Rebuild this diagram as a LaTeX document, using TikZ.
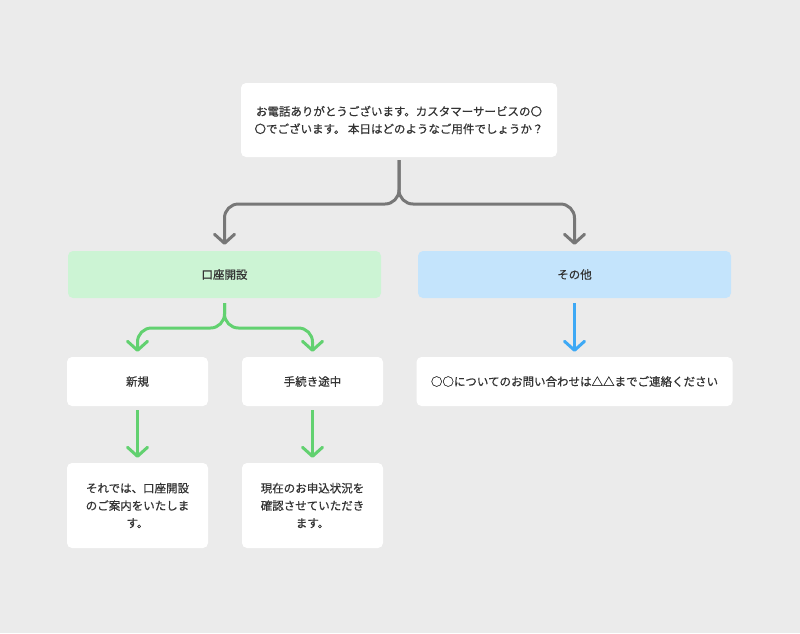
\documentclass[tikz,border=0pt]{standalone}
\usepackage{fontspec}
\setmainfont{Noto Sans CJK JP}[RawFeature={embolden=0.6}]
\usetikzlibrary{arrows.meta,positioning}
\definecolor{bgcol}{HTML}{EBEBEB}
\definecolor{txtcol}{HTML}{333333}
\definecolor{openfill}{HTML}{CCF4D4}
\definecolor{otherfill}{HTML}{C4E4FC}
\definecolor{grayline}{HTML}{777777}
\definecolor{greenline}{HTML}{62D170}
\definecolor{blueline}{HTML}{3EA9F5}
\tikzset{
  card/.style={fill=white,rounded corners=5pt,inner sep=0pt,align=center,text=txtcol,
    font=\fontsize{11.5}{17.5}\selectfont},
  link/.style={line width=3pt,rounded corners=14pt,
    -{Straight Barb[length=9pt,width=20pt,round]}}
}
\begin{document}
\begin{tikzpicture}[x=1pt,y=-1pt]
\fill[bgcol] (0,0) rectangle (800,633);
% question
\node[card,minimum width=316pt,minimum height=74pt] (greet) at (399,120)
  {お電話ありがとうございます。カスタマーサービスの〇\\〇でございます。 本日はどのようなご用件でしょうか？};
% branches
\node[card,fill=openfill,minimum width=313pt,minimum height=47pt] (open) at (224.5,274.5) {口座開設};
\node[card,fill=otherfill,minimum width=313pt,minimum height=47pt] (other) at (574.5,274.5) {その他};
\coordinate (gsplit) at (399,204);
\draw[link,grayline,shorten <=3pt,shorten >=6pt] (greet.south) -- (gsplit) -| (open.north);
\draw[link,grayline,shorten <=3pt,shorten >=6pt] (greet.south) -- (gsplit) -| (other.north);
% account opening
\node[card,minimum width=141pt,minimum height=49pt] (newc) at (137.5,381.5) {新規};
\node[card,minimum width=141pt,minimum height=49pt] (contc) at (312.5,381.5) {手続き途中};
\coordinate (osplit) at (224.5,328);
\draw[link,greenline,shorten <=5pt,shorten >=5pt] (open.south) -- (osplit) -| (newc.north);
\draw[link,greenline,shorten <=5pt,shorten >=5pt] (open.south) -- (osplit) -| (contc.north);
\node[card,minimum width=141pt,minimum height=85pt] (newmsg) at (137.5,505.5)
  {それでは、口座開設\\のご案内をいたしま\\す。};
\node[card,minimum width=141pt,minimum height=85pt] (contmsg) at (312.5,505.5)
  {現在のお申込状況を\\確認させていただき\\ます。};
\draw[link,greenline,shorten <=4pt,shorten >=5pt] (newc.south) -- (newmsg.north);
\draw[link,greenline,shorten <=4pt,shorten >=5pt] (contc.south) -- (contmsg.north);
% other
\node[card,minimum width=316pt,minimum height=49pt] (othermsg) at (574.5,381.5)
  {○○についてのお問い合わせは△△までご連絡ください};
\draw[link,blueline,shorten <=5pt,shorten >=5pt] (other.south) -- (othermsg.north);
\end{tikzpicture}
\end{document}
